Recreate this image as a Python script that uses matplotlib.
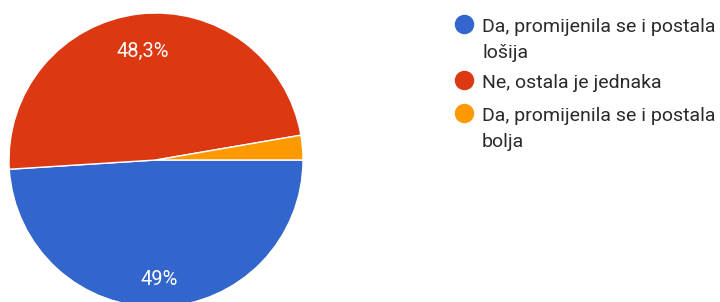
import matplotlib
import matplotlib.pyplot as plt

matplotlib.use("Agg")

plt.rcParams["font.family"] = ["Roboto", "DejaVu Sans"]

labels = [
    "Da, promijenila se i postala\nlošija",
    "Ne, ostala je jednaka",
    "Da, promijenila se i postala\nbolja",
]
values = [49.0, 48.3, 2.7]
pct_labels = ["49%", "48,3%", ""]
colors = ["#3366cc", "#dc3912", "#ff9900"]

W, H = 720, 302
fig = plt.figure(figsize=(W / 100, H / 100), dpi=100)
ax = fig.add_axes([0, 0, 1, 1])

pct_iter = iter(pct_labels)
wedges, texts, autotexts = ax.pie(
    values,
    colors=colors,
    startangle=0,
    counterclock=False,
    center=(156, H - 160),
    radius=147,
    autopct=lambda p: next(pct_iter),
    pctdistance=0.78,
    wedgeprops=dict(edgecolor="white", linewidth=1),
    textprops=dict(color="white", fontsize=14.5),
)
for t in autotexts:
    t.set_va("center_baseline")
    x0, y0 = t.get_position()
    t.set_position((x0, y0 - 3))

ax.set_xlim(0, W)
ax.set_ylim(0, H)
ax.set_aspect("equal")
ax.axis("off")

# legend drawn by hand so the dot lines up with the first text line
y = 24
for lab, col in zip(labels, colors):
    ax.plot(464, H - y, "o", markersize=13, color=col, clip_on=False)
    lines = lab.split("\n")
    for i, line in enumerate(lines):
        ax.text(482, H - (y + 8 + 26 * i), line, va="baseline", ha="left",
                fontsize=14, color="#2a2a2a")
    y += 23 * (len(lines) - 1) + 33

fig.savefig("out.png", dpi=100)
plt.close(fig)
